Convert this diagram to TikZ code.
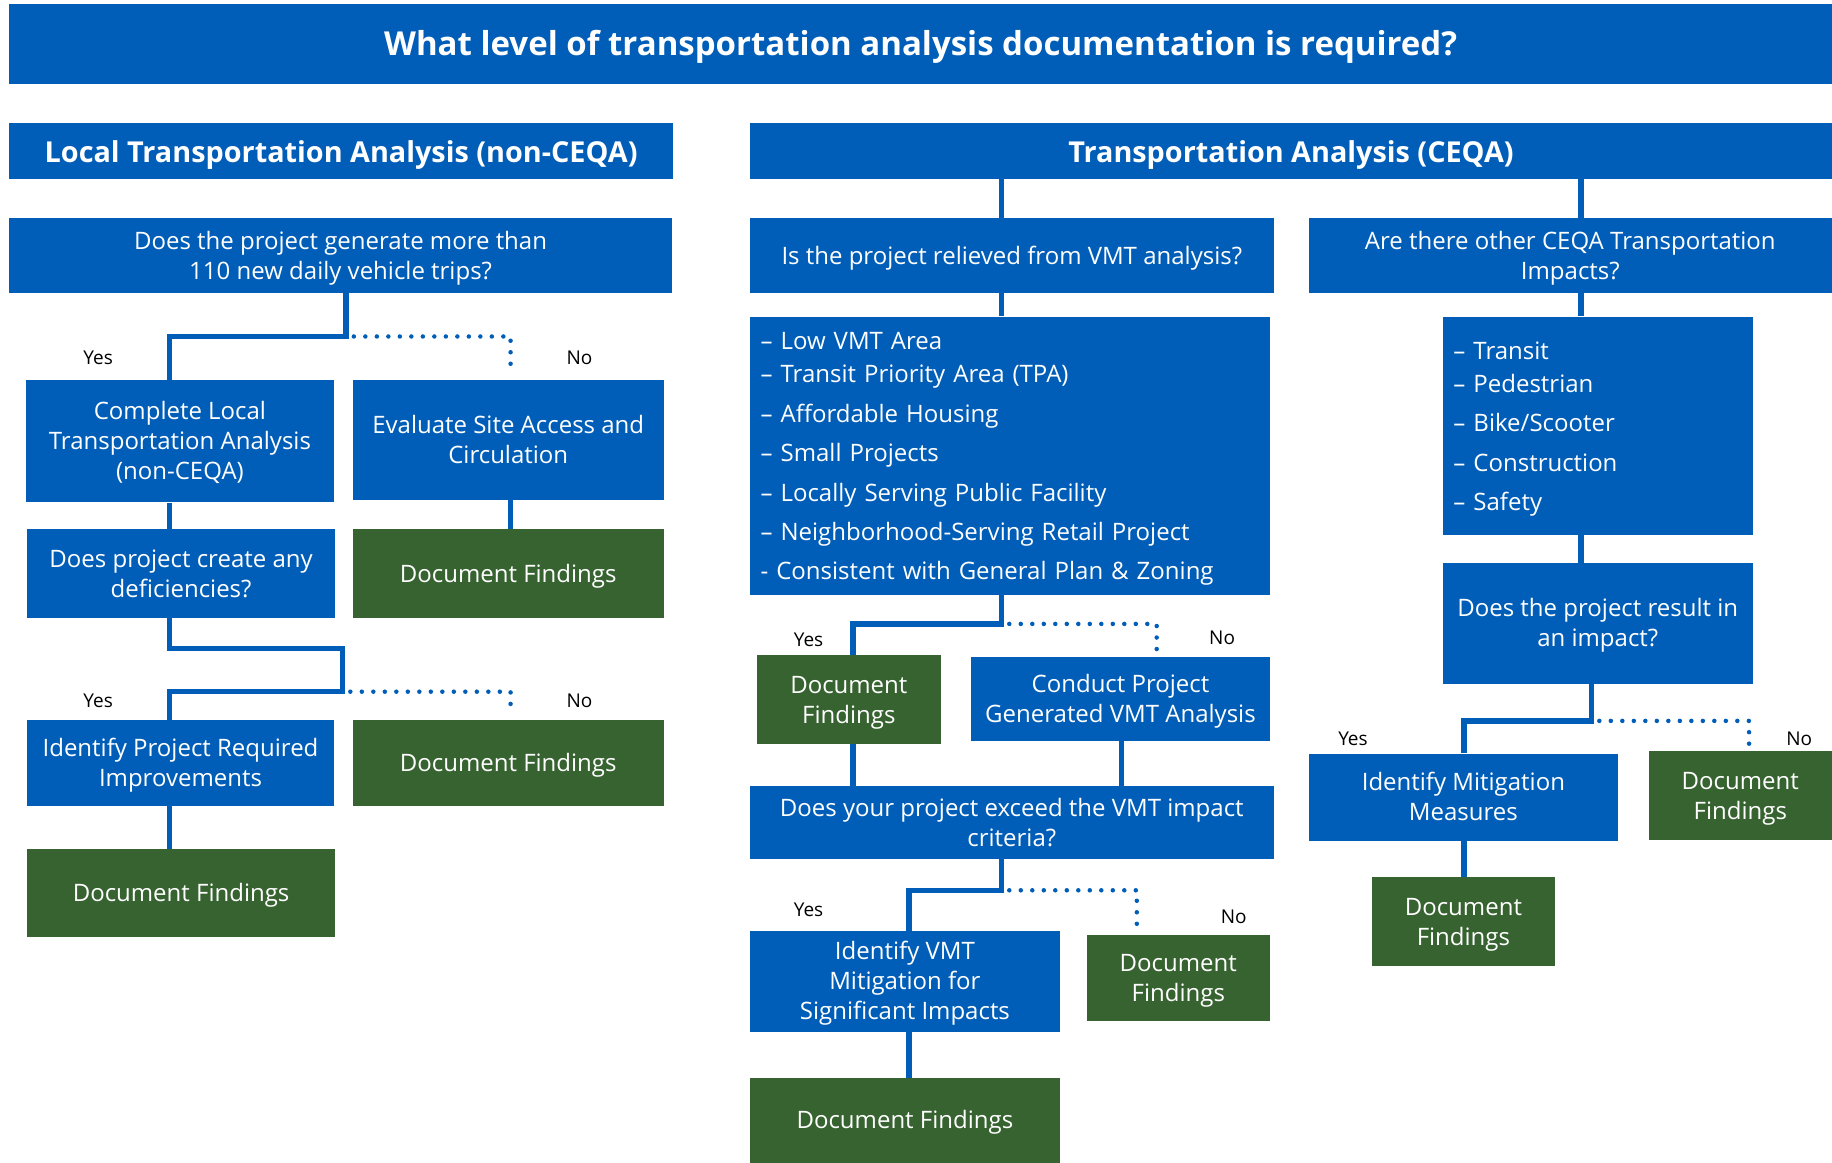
\documentclass[tikz,border=0pt]{standalone}
\usepackage{fontspec}
\setmainfont{Open Sans}
\definecolor{cblue}{RGB}{0,94,184}
\definecolor{cgreen}{RGB}{55,99,48}
% how far the text sits below the optical centre of its box
\newcommand\textdrop{2.5pt}
% \rbox[style]{name}{x1}{y1}{x2}{y2}{text}: a box given by its corners
\newcommand\rbox[7][box]{%
  \node[#1, minimum width={(#5-#3)*1.16837pt}, minimum height={(#6-#4)*1.16837pt}]
    (#2) at ({(#3+#5)/2},{(#4+#6)/2})
    {\raisebox{-\textdrop}[\height][\depth]{\begin{tabular}{@{}c@{}}#7\end{tabular}}};}
% \lbox{name}{x1}{y1}{x2}{y2}{lines}: a box holding a left-aligned list
\newcommand\lbox[6]{%
  \node[listbox, text width={(#4-#2-18)*1.16837pt}, minimum width={(#4-#2)*1.16837pt},
    minimum height={(#5-#3)*1.16837pt}]
    (#1) at ({(#2+#4)/2},{(#3+#5)/2})
    {\raisebox{-\textdrop}[\height][\depth]{\begin{tabular}{@{}l@{}}#6\end{tabular}}};}
\begin{document}
\begin{tikzpicture}[x=1.16837pt,y=-1.16837pt,
  box/.style={fill=cblue, text=white, inner sep=0pt,
    font=\fontsize{24}{30}\selectfont},
  gbox/.style={box, fill=cgreen},
  head/.style={box, font=\bfseries\fontsize{28.8}{32}\selectfont,
    execute at begin node={\renewcommand\textdrop{5.8pt}}},
  titlebox/.style={box, font=\bfseries\fontsize{33}{38}\selectfont,
    execute at begin node={\renewcommand\textdrop{4pt}}},
  listbox/.style={box, align=left, font=\fontsize{24}{32.7}\selectfont},
  conn/.style={draw=cblue, line width=5.5pt},
  noconn/.style={draw=cblue, line width=4.5pt, line cap=round, dash pattern=on 0pt off 11.5pt},
  lbl/.style={font=\fontsize{19}{22}\selectfont, text=black, inner sep=0pt}]
\useasboundingbox (0,0) rectangle (1568,995);

% headers
\rbox[titlebox]{title}{8}{3}{1568}{72}{What level of transportation analysis documentation is required?}
\rbox[head]{hL}{8}{105}{576}{153}{Local Transportation Analysis (non-CEQA)}
\rbox[head]{hR}{642}{105}{1568}{153}{Transportation Analysis (CEQA)}

% local (non-CEQA) column
\rbox{q1}{8}{187}{575}{251}{Does the project generate more than\\110 new daily vehicle trips?}
\rbox{cla}{22}{325}{286}{430}{Complete Local\\Transportation Analysis\\(non-CEQA)}
\rbox{esa}{302}{325}{568}{428}{Evaluate Site Access and\\Circulation}
\rbox{def}{23}{453}{287}{529}{Does project create any\\deficiencies?}
\rbox[gbox]{df1}{302}{453}{568}{529}{Document Findings}
\rbox{ipr}{23}{616}{286}{690}{Identify Project Required\\Improvements}
\rbox[gbox]{df2}{302}{616}{568}{690}{Document Findings}
\rbox[gbox]{df3}{23}{727}{287}{802}{Document Findings}

% VMT column
\rbox{vq}{642}{187}{1090}{251}{Is the project relieved from VMT analysis?}
\lbox{vlist}{642}{271}{1087}{509}{%
  – Low VMT Area\\
  – Transit Priority Area (TPA)\\[7pt]
  – Affordable Housing\\[7pt]
  – Small Projects\\[7pt]
  – Locally Serving Public Facility\\[6pt]
  – Neighborhood-Serving Retail Project\\[7pt]
  - Consistent with General Plan \& Zoning}
\rbox[gbox]{df4}{648}{561}{805}{637}{Document\\Findings}
\rbox{cpg}{831}{562}{1087}{634}{Conduct Project\\Generated VMT Analysis}
\rbox{exq}{642}{673}{1090}{735}{Does your project exceed the VMT impact\\criteria?}
\rbox{ivm}{642}{797}{907}{883}{Identify VMT\\Mitigation for\\Significant Impacts}
\rbox[gbox]{df5}{930}{800}{1087}{874}{Document\\Findings}
\rbox[gbox]{df6}{642}{923}{907}{995}{Document Findings}

% other impacts column
\rbox{oq}{1120}{187}{1568}{251}{Are there other CEQA Transportation\\Impacts?}
\lbox{olist}{1235}{271}{1500}{458}{%
  – Transit\\
  – Pedestrian\\[7pt]
  – Bike/Scooter\\[7pt]
  – Construction\\[6pt]
  – Safety}
\rbox{riq}{1235}{482}{1500}{585}{Does the project result in\\an impact?}
\rbox{imm}{1120}{645}{1385}{720}{Identify Mitigation\\Measures}
\rbox[gbox]{df7}{1411}{643}{1568}{719}{Document\\Findings}
\rbox[gbox]{df8}{1174}{751}{1331}{827}{Document\\Findings}

% junction points of the yes/no branches
\coordinate (j1) at (296,288);  \coordinate (y1) at (145,288);  \coordinate (n1) at (437,288);
\coordinate (k2) at (145,555);  \coordinate (j2) at (293,592);
\coordinate (y2) at (145,592);  \coordinate (n2) at (437,592);
\coordinate (j3) at (857,534);  \coordinate (y3) at (730,534);  \coordinate (n3) at (990,534);
\coordinate (j4) at (857,762);  \coordinate (y4) at (778,762);  \coordinate (n4) at (973,762);
\coordinate (j5) at (1362,617); \coordinate (y5) at (1253,617); \coordinate (n5) at (1497,617);
\coordinate (cL) at (857,0);    \coordinate (cR) at (1353,0);  \coordinate (cM) at (960,0);

% local column connectors
\draw[conn] (q1.south -| j1) -- (j1) -- (y1) -- (cla.north -| y1);
\draw[noconn] ([xshift=8pt]j1) -- (n1) -- ([yshift=5pt]esa.north -| n1);
\draw[conn] (cla.south -| y1) -- (def.north -| y1);
\draw[conn] (esa.south -| n1) -- (df1.north -| n1);
\draw[conn] (def.south -| k2) -- (k2) -| (j2) -- (y2) -- (ipr.north -| y2);
\draw[noconn] ([xshift=8pt]j2) -- (n2) -- ([yshift=5pt]df2.north -| n2);
\draw[conn] (ipr.south -| y2) -- (df3.north -| y2);

% VMT column connectors
\draw[conn] (hR.south -| cL) -- (vq.north -| cL);
\draw[conn] (hR.south -| cR) -- (oq.north -| cR);
\draw[conn] (vq.south -| cL) -- (vlist.north -| cL);
\draw[conn] (vlist.south -| j3) -- (j3) -- (y3) -- (df4.north -| y3);
\draw[noconn] ([xshift=8pt]j3) -- (n3) -- ([yshift=5pt]cpg.north -| n3);
\draw[conn] (df4.south -| y3) -- (exq.north -| y3);
\draw[conn] (cpg.south -| cM) -- (exq.north -| cM);
\draw[conn] (exq.south -| j4) -- (j4) -- (y4) -- (ivm.north -| y4);
\draw[noconn] ([xshift=8pt]j4) -- (n4) -- ([yshift=5pt]df5.north -| n4);
\draw[conn] (ivm.south -| y4) -- (df6.north -| y4);

% other impacts connectors
\draw[conn] (oq.south -| cR) -- (olist.north -| cR);
\draw[conn] (olist.south -| cR) -- (riq.north -| cR);
\draw[conn] (riq.south -| j5) -- (j5) -- (y5) -- (imm.north -| y5);
\draw[noconn] ([xshift=8pt]j5) -- (n5) -- ([yshift=5pt]df7.north -| n5);
\draw[conn] (imm.south -| y5) -- (df8.north -| y5);

% branch labels
\node[lbl] (ly1) at (84,306) {Yes};   \node[lbl] (ln1) at (496,306) {No};
\node[lbl] (ly2) at (84,600) {Yes};   \node[lbl] (ln2) at (496,600) {No};
\node[lbl] (ly3) at (692,548) {Yes};  \node[lbl] (ln3) at (1046,546) {No};
\node[lbl] (ly4) at (692,779) {Yes};  \node[lbl] (ln4) at (1056,785) {No};
\node[lbl] (ly5) at (1158,632) {Yes}; \node[lbl] (ln5) at (1540,632) {No};
\end{tikzpicture}
\end{document}
